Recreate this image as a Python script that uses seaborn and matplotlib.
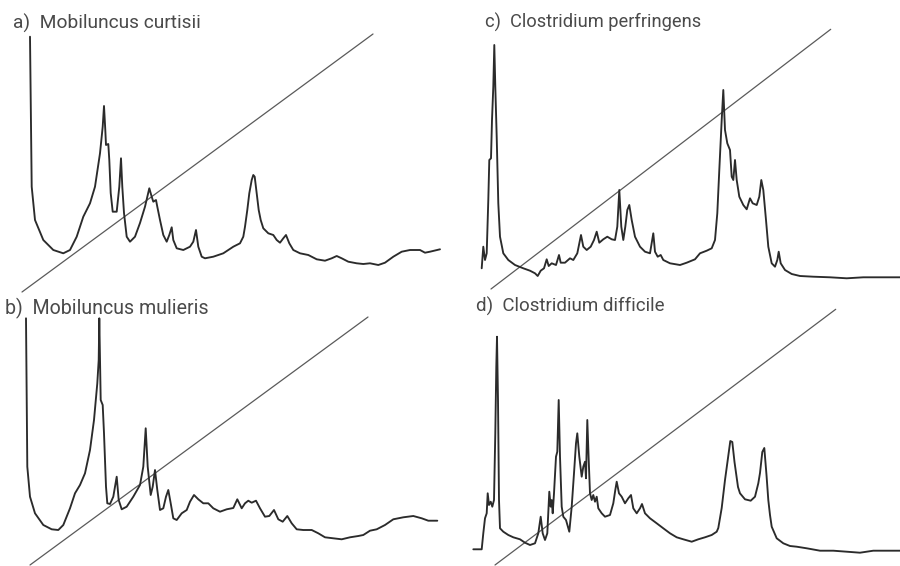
import matplotlib
matplotlib.use("Agg")
import matplotlib.pyplot as plt
import seaborn as sns
import pandas as pd

# Gas chromatograms of four anaerobes: retention (arbitrary units) vs detector response,
# with the oven temperature programme drawn as a straight ramp across each trace.

# a) Mobiluncus curtisii
a_time = [30, 31.7, 35, 43.3, 53.3, 63.3, 70, 76.7, 83.3, 90, 95, 100, 102.7, 104, 105.3, 106,
          108.3, 109.3, 110.7, 112.7, 116.7, 119.3, 121, 122.3, 124, 126.7, 130, 135, 140, 145,
          149.3, 151.7, 153.3, 156, 157.3, 160, 163.3, 166.7, 169.3, 171.7, 173.3, 176.7, 183.3,
          190, 193.3, 196, 198.3, 201.7, 205, 213.3, 223.3, 233.3, 240, 243.3, 245, 247.3, 249.3,
          251.7, 253.3, 254.7, 256.7, 258.7, 260.7, 263.3, 268.3, 273.3, 276.7, 280, 283.3, 286,
          289.3, 293.3, 300, 308.3, 316.7, 325, 331.7, 336.7, 341.7, 348.3, 356.7, 363.3, 370,
          378.3, 385, 393.3, 401.7, 410, 420, 425, 430, 440]
a_signal = [258.3, 108.3, 75, 55, 45, 41.7, 45, 58.3, 78.3, 91.7, 108.3, 141.7, 168.3, 189, 165, 150,
            151, 135, 102, 83.3, 83.3, 108.3, 136.7, 108.3, 82, 58.3, 53.3, 58.3, 72, 88.3,
            106.7, 98.3, 93.3, 95, 88.3, 75, 60, 53.3, 60, 67.7, 55, 46.7, 45,
            48.3, 53.3, 65, 48.3, 38.3, 36.7, 38.3, 41.7, 48.3, 51.7, 58.3, 68.3, 85, 101.7,
            115, 120, 118.3, 101.7, 85, 75, 66.7, 61.7, 60, 55, 52.3, 56.7, 60,
            51.7, 45, 41.7, 40, 35.7, 34.3, 36.7, 39, 36.7, 33.3, 31.7, 31, 31.7,
            30, 32.3, 38.3, 43.3, 45, 45, 42.3, 43.3, 45.7]
a_ramp_time = [22, 373]
a_ramp_level = [3, 261]

# b) Mobiluncus mulieris
b_time = [26, 27.3, 30, 35, 43.3, 51.7, 58.3, 63.3, 70, 75, 80, 85, 90, 94, 97.3, 98.7, 99.3,
          100.7, 102.7, 104, 106, 107.3, 110, 113.3, 116.7, 118.7, 121.7, 126.7, 133.3, 140,
          143.3, 145.7, 147.7, 150.7, 152.7, 155, 157.3, 160, 163.3, 166, 168.3, 170.7, 173.3,
          176.7, 181.7, 186.7, 190, 194, 198.3, 203.3, 208.3, 213.3, 220, 226.7, 233.3, 237.3,
          241.7, 245, 248.3, 251.7, 256, 260, 265, 269.3, 274, 278.3, 282.7, 287.3, 291.7, 296.7,
          303.3, 311.7, 318.3, 325, 333.3, 341.7, 350, 358.3, 363.3, 370, 376.7, 385, 393.3,
          403.3, 413.3, 421.7, 428.3, 437.3]
b_signal = [247.7, 99.3, 69.3, 52.7, 41, 36.7, 36, 41, 57.7, 72.7, 81, 92.7, 116, 146, 182.7, 206, 247.7,
            166, 161, 132.7, 79.3, 62.7, 62, 69.3, 89.3, 66, 56.7, 59.3, 69.3, 81,
            99.3, 137.7, 99.3, 71, 79.3, 96, 76, 56, 57.7, 69.3, 76, 62.7, 47.7,
            46, 52.7, 56, 64.3, 71, 66.7, 62.7, 62.7, 57.7, 54.3, 56.7, 58, 66.7,
            57.7, 62.7, 65.3, 63.3, 65.3, 57.7, 49.3, 50, 56, 46.7, 44.3, 50, 42.7, 36.7,
            36, 36, 32.7, 28.7, 27.7, 26.7, 28.7, 30, 31, 35.3, 36.7, 41, 46.7,
            48.7, 50, 47.7, 45.3, 45.3]
b_ramp_time = [30, 368]
b_ramp_level = [1, 249]

# c) Clostridium perfringens
c_time = [31.7, 33.3, 35, 36.7, 38.3, 39.3, 41, 42, 43.3, 44.3, 45.3, 46.7, 48.3, 50, 53.3, 58.3,
          65, 73.3, 80, 85, 87.7, 90.7, 94, 96.7, 98.7, 101.7, 106, 109, 110.7, 115, 120, 123.3,
          127.3, 131, 133.3, 136.7, 140.7, 144, 146.7, 149.3, 153.3, 157.3, 161.7, 165, 167.3,
          169.3, 171.3, 173.3, 175.3, 177.3, 179.3, 181.7, 185, 190, 195, 200, 203.3, 205, 207.7,
          210.7, 213.3, 220, 230, 236.7, 245, 250, 256.7, 261.7, 265, 267.3, 269.3, 271.7, 273.3,
          275, 277.3, 280, 281.7, 283.3, 285, 286.7, 289.3, 293.3, 296.7, 300, 302.7, 306.7,
          309.3, 311.3, 313.3, 316, 318.3, 321.7, 325, 327.3, 328.7, 330.7, 335, 341.7, 350,
          363.3, 380, 396.7, 413.3, 430, 450]
c_signal = [26.7, 48.3, 35, 41.7, 95, 135, 136.7, 175, 208.3, 250, 208.3, 158.3, 91.7, 58.3, 41.7, 35,
            30, 26.7, 24.3, 21.7, 19, 24.3, 26.7, 35.7, 29, 31.7, 30, 40, 32.3, 32.3, 36.7, 35,
            41.7, 60, 48.3, 45, 48.3, 55, 63.3, 52.3, 55.7, 58.3, 55.7, 55, 68.3,
            105, 68.3, 55, 68.3, 85, 90, 75, 58.3, 48.3, 43.3, 41.7, 61.7, 43.3, 38.3,
            40, 35, 31.7, 30, 32.3, 35.7, 41.7, 44.3, 46.7, 55, 81.7, 125, 175, 205,
            165, 151.7, 145, 118.3, 115, 135, 115, 98.3, 90, 85.7, 96.7, 91.7, 90,
            98.3, 115, 105, 75, 48.3, 31.7, 28.3, 35, 43.3, 31.7, 25, 21, 19,
            18.3, 17.7, 16.7, 17.7, 17.7, 17.7]
c_ramp_time = [41, 380.7]
c_ramp_level = [6, 265.7]

# d) Clostridium difficile
d_time = [23.3, 31.7, 33.3, 35, 36.7, 37.7, 39, 40.7, 42.3, 44, 45.3, 46.3, 47, 48, 49, 50, 53.3,
          58.3, 63.3, 70, 75, 80, 85, 88.3, 90.7, 92.7, 95, 97.3, 99.3, 100.7, 101.7, 102.7, 104,
          106, 107.3, 108.7, 110, 111.7, 113.3, 116, 119.3, 121.7, 124, 126, 127.3, 129.3, 131.7,
          133.3, 135, 136, 137.3, 138.7, 140, 141.7, 143.3, 145, 146.7, 148.3, 151.7, 155, 160,
          163.3, 165.3, 166.7, 169, 171.7, 175, 178.3, 181, 183.3, 186.7, 190, 192, 195, 200,
          206.7, 213.3, 220, 226.7, 233.3, 241.7, 248.3, 255, 261.7, 266.7, 268.3, 271.7, 275,
          278, 280.3, 282.3, 284.5, 288, 290, 295, 300.7, 305, 308.3, 310, 312.3, 314.3, 316.5,
          318.3, 320, 321.7, 326.7, 333.3, 340, 346.7, 356.7, 370, 383.3, 396.7, 410, 423.3,
          436.7, 450]
d_signal = [16.7, 16.7, 32.7, 47.7, 52.7, 72.7, 61, 64.3, 59.3, 66, 132.7, 199.3, 229.3, 166, 66, 37.7, 34.3,
            31, 28.7, 26.7, 23.3, 21, 22.7, 32.7, 49.3, 32.7, 26, 32.7, 74.3, 59.3, 66, 52.7, 72.7,
            109.3, 114.3, 166, 109.3, 59.3, 49.3, 46, 34.3, 59.3, 92.7, 122.7, 132.7, 109.3, 89.3,
            99.3, 104.3, 87.7, 146, 106, 72.7, 66, 71, 64.3, 69.3, 57.7, 52.7, 49.3, 51,
            62.7, 76, 84.3, 72.7, 69.3, 62.7, 67.7, 71, 57.7, 52.7, 57.7, 62, 52.7, 47.7,
            42.7, 37.7, 32.7, 28.7, 26.7, 24.3, 26.7, 28.7, 31, 34.3, 38, 58, 86,
            108, 125, 124, 104, 79, 72.7, 66.7, 65.3, 69.3, 82.7, 93, 114, 118, 91,
            66, 51, 39.3, 27.7, 22.7, 20, 19.3, 17.7, 15.3, 15.3, 14.3, 13.3, 15.3,
            15.3, 15.3]
d_ramp_time = [45, 385.7]
d_ramp_level = [1, 256.7]

titles = ["a)  Mobiluncus curtisii", "b)  Mobiluncus mulieris",
          "c)  Clostridium perfringens", "d)  Clostridium difficile"]

sns.set_theme(style="white")
plt.rcParams["font.family"] = ["Liberation Sans Narrow", "DejaVu Sans Condensed",
                               "Roboto", "DejaVu Sans"]

W, H = 900, 566
fig = plt.figure(figsize=(W / 100, H / 100), dpi=100)
fig.patch.set_facecolor("white")

# panel boxes in pixels: (left, top, width, height)
boxes = [(0, 0, 450, 295), (0, 295, 450, 271), (450, 0, 450, 295), (450, 295, 450, 271)]
traces = [(a_time, a_signal, a_ramp_time, a_ramp_level),
          (b_time, b_signal, b_ramp_time, b_ramp_level),
          (c_time, c_signal, c_ramp_time, c_ramp_level),
          (d_time, d_signal, d_ramp_time, d_ramp_level)]
# title anchor (x from panel left, y below panel top) and width it should span
title_pos = [(13, 29, 188), (5, 19, 204), (35, 28, 215), (26, 17, 189)]

curve_color = "#2b2b2b"
ramp_color = "#5a5a5a"
text_color = "#4a4a4a"

title_objs = []
for (l, t, w, h), (tx, sy, rx, ry), (px, py, tw), title in zip(boxes, traces, title_pos, titles):
    ax = fig.add_axes([l / W, (H - t - h) / H, w / W, h / H])
    ax.set_xlim(0, w)
    ax.set_ylim(0, h)
    ax.set_axis_off()
    sns.lineplot(data=pd.DataFrame({"time": rx, "level": ry}), x="time", y="level",
                 ax=ax, color=ramp_color, linewidth=0.9, sort=False, estimator=None)
    sns.lineplot(data=pd.DataFrame({"time": tx, "signal": sy}), x="time", y="signal",
                 ax=ax, color=curve_color, linewidth=1.35, sort=False, estimator=None,
                 solid_joinstyle="round")
    for ln in ax.lines:
        ln.set_clip_on(False)
    txt = ax.text(px, h - py, title, fontsize=13, color=text_color, va="baseline", ha="left")
    title_objs.append((txt, tw))

# scale each title so it spans its intended width
fig.canvas.draw()
renderer = fig.canvas.get_renderer()
for txt, tw in title_objs:
    width = txt.get_window_extent(renderer).width
    txt.set_fontsize(13 * tw / width)

fig.savefig("out.png", dpi=100, facecolor="white")
